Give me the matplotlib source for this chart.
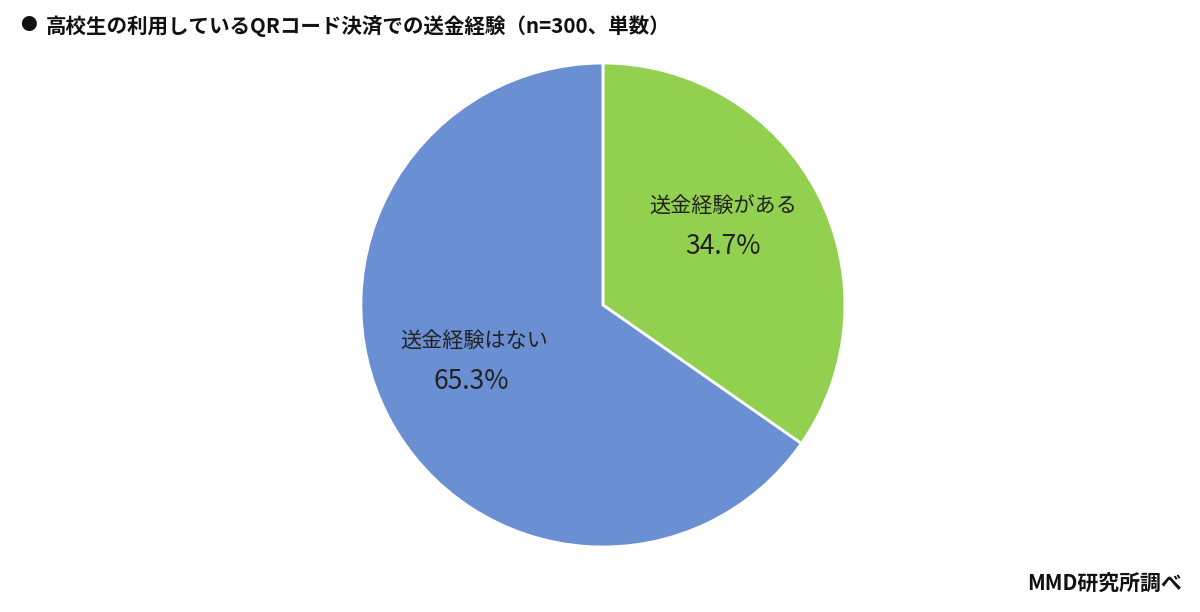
import matplotlib.pyplot as plt

plt.rcParams['font.family'] = ['Noto Sans CJK JP', 'DejaVu Sans']

# データ
labels = ['送金経験がある', '送金経験はない']
values = [34.7, 65.3]
colors = ['#92D050', '#6A8FD2']

title = '高校生の利用しているQRコード決済での送金経験（n=300、単数）'
source = 'MMD研究所調べ'

# ラベルの位置 (半径=1): 名前, パーセント
name_pos = [(0.496, 0.409), (-0.533, -0.149)]
pct_pos = [(0.496, 0.240), (-0.545, -0.314)]

fig = plt.figure(figsize=(12, 6.12), dpi=100)
ax = fig.add_axes([0.3008, 0.1062, 0.4033, 0.7908])

wedges, _ = ax.pie(values, colors=colors, startangle=90, counterclock=False,
                   wedgeprops=dict(edgecolor='white', linewidth=2))
for l, v, (x1, y1), (x2, y2) in zip(labels, values, name_pos, pct_pos):
    ax.text(x1, y1, l, fontsize=15.2, color='#222222', ha='center', va='center')
    ax.text(x2, y2, '%.1f%%' % v, fontsize=19, color='#222222', ha='center', va='center')
ax.set_aspect('equal')
ax.set_xlim(-1, 1)
ax.set_ylim(-1, 1)

fig.text(0.017, 0.958, '●', fontsize=12, va='center', ha='left', color='#111111')
fig.text(0.038, 0.958, title, fontsize=14.8, fontweight='bold', va='center', ha='left', color='#111111')
fig.text(0.985, 0.047, source, fontsize=15, fontweight='bold', va='center', ha='right', color='#111111')

plt.savefig('out.png', dpi=100)
